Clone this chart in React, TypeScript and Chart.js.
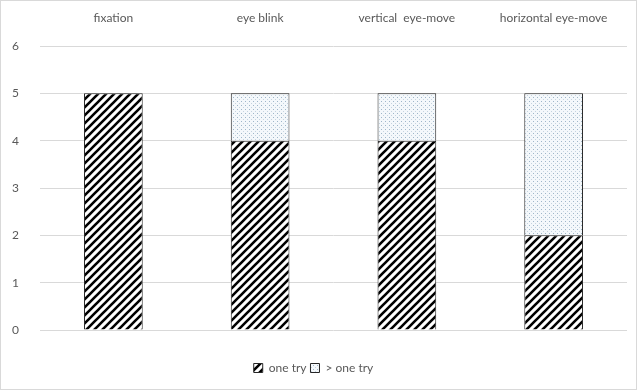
import React, { useEffect, useRef } from "react";
import { Chart, registerables } from "chart.js";

Chart.register(...registerables);

const categories = ["fixation", "eye blink", "vertical  eye-move", "horizontal eye-move"];
const oneTry = [5, 4, 4, 2];
const moreTries = [0, 1, 1, 3];
const seriesNames = ["one try", "> one try"];
const yTicks = [0, 1, 2, 3, 4, 5, 6];

function hatchPattern(): CanvasPattern | string {
  const c = document.createElement("canvas");
  c.width = 8;
  c.height = 8;
  const g = c.getContext("2d");
  if (!g) return "#000";
  g.fillStyle = "#ffffff";
  g.fillRect(0, 0, 8, 8);
  g.strokeStyle = "#000000";
  g.lineWidth = 2.6;
  g.beginPath();
  g.moveTo(-2, 10);
  g.lineTo(10, -2);
  g.moveTo(-2, 2);
  g.lineTo(2, -2);
  g.moveTo(6, 10);
  g.lineTo(10, 6);
  g.stroke();
  const p = g.createPattern(c, "repeat");
  return p || "#000";
}

function dotPattern(): CanvasPattern | string {
  const c = document.createElement("canvas");
  c.width = 4;
  c.height = 4;
  const g = c.getContext("2d");
  if (!g) return "#eef";
  g.fillStyle = "#f4f8fb";
  g.fillRect(0, 0, 4, 4);
  g.fillStyle = "#9fb6c9";
  g.fillRect(1, 1, 1, 1);
  g.fillStyle = "#c5d3df";
  g.fillRect(3, 3, 1, 1);
  const p = g.createPattern(c, "repeat");
  return p || "#eef";
}

const borderPlugin = {
  id: "outerBorder",
  afterDraw(chart: any) {
    const ctx = chart.ctx;
    ctx.save();
    ctx.strokeStyle = "#d9d9d9";
    ctx.lineWidth = 1;
    ctx.strokeRect(0.5, 0.5, chart.width - 1, chart.height - 1);
    ctx.restore();
  },
};

export default function App() {
  const ref = useRef<HTMLCanvasElement | null>(null);
  useEffect(() => {
    document.body.style.margin = "0";
    if (!ref.current) return;
    const font = "Lato, 'Open Sans', sans-serif";
    const chart = new Chart(ref.current, {
      type: "bar",
      data: {
        labels: categories,
        datasets: [
          {
            label: seriesNames[0],
            data: oneTry,
            backgroundColor: hatchPattern() as any,
            borderColor: "#262626",
            borderWidth: 1,
            barPercentage: 0.4,
            categoryPercentage: 1,
          },
          {
            label: seriesNames[1],
            data: moreTries,
            backgroundColor: dotPattern() as any,
            borderColor: "#262626",
            borderWidth: 1,
            barPercentage: 0.4,
            categoryPercentage: 1,
          },
        ],
      },
      plugins: [borderPlugin],
      options: {
        responsive: false,
        animation: false,
        layout: { padding: { top: 1, left: 0, right: 10, bottom: 6 } },
        plugins: {
          tooltip: { enabled: false },
          legend: {
            position: "bottom",
            labels: {
              boxWidth: 9,
              boxHeight: 9,
              color: "#595959",
              font: { family: font, size: 12 },
              padding: 4,
            },
          },
        },
        scales: {
          x: {
            position: "top",
            stacked: true,
            grid: { display: false },
            border: { display: false },
            ticks: { color: "#595959", font: { family: font, size: 12 }, padding: 13, maxRotation: 0 },
            afterFit: (s: any) => {
              s.height = 45;
            },
          },
          x2: {
            position: "bottom",
            display: true,
            grid: { display: false },
            border: { display: false },
            ticks: { display: false },
            afterFit: (s: any) => {
              s.height = 28;
            },
          },
          y: {
            stacked: true,
            min: 0,
            max: 6,
            afterBuildTicks: (axis: any) => {
              axis.ticks = yTicks.map((v) => ({ value: v }));
            },
            afterFit: (s: any) => {
              s.width = 40;
            },
            grid: { color: "#d9d9d9", drawTicks: false },
            border: { display: false },
            ticks: { color: "#595959", font: { family: font, size: 12 }, padding: 21 },
          },
        },
      },
    });
    return () => chart.destroy();
  }, []);
  return (
    <div style={{ width: 637, height: 390 }}>
      <canvas ref={ref} width={637} height={390} style={{ display: "block" }} />
    </div>
  );
}
